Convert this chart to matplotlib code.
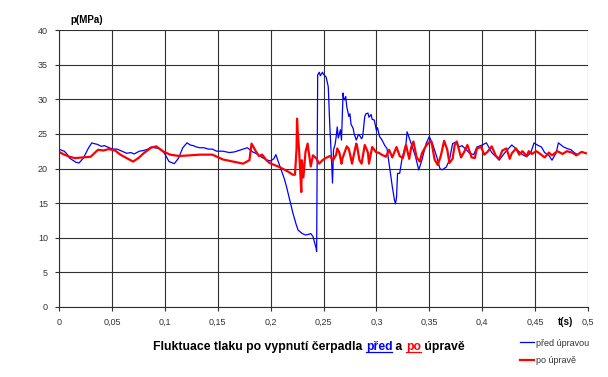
import matplotlib.pyplot as plt
from matplotlib.lines import Line2D
from matplotlib.ticker import FuncFormatter

plt.rcParams['font.family'] = ['Liberation Sans', 'DejaVu Sans']

# tlak pred upravou (modra)
t_pred = [0.000, 0.003, 0.005, 0.008, 0.010, 0.013, 0.016, 0.019, 0.023, 0.026,
          0.028, 0.031, 0.033, 0.036, 0.040, 0.043, 0.046, 0.049, 0.052, 0.055,
          0.058, 0.061, 0.064, 0.068, 0.071, 0.076, 0.080, 0.084, 0.087, 0.090,
          0.094, 0.097, 0.100, 0.104, 0.109, 0.113, 0.117, 0.121, 0.124, 0.127,
          0.130, 0.133, 0.137, 0.141, 0.145, 0.149, 0.155, 0.161, 0.166, 0.170,
          0.174, 0.178, 0.183, 0.186, 0.189, 0.193, 0.197, 0.200, 0.203, 0.205,
          0.207, 0.210, 0.213, 0.215, 0.218, 0.221, 0.224, 0.226, 0.230, 0.233,
          0.236, 0.238, 0.240, 0.2430, 0.2435, 0.2445, 0.246, 0.247, 0.249, 0.250,
          0.2525, 0.2545, 0.256, 0.2575, 0.2585, 0.2595, 0.261, 0.262, 0.263, 0.264,
          0.265, 0.266, 0.267, 0.2685, 0.269, 0.270, 0.271, 0.272, 0.273, 0.274,
          0.275, 0.276, 0.278, 0.279, 0.281, 0.283, 0.284, 0.286, 0.287, 0.289,
          0.290, 0.292, 0.293, 0.295, 0.296, 0.298, 0.300, 0.301, 0.303, 0.305,
          0.306, 0.308, 0.310, 0.312, 0.315, 0.317, 0.318, 0.319, 0.320, 0.322,
          0.324, 0.326, 0.328, 0.329, 0.332, 0.334, 0.337, 0.340, 0.343, 0.345,
          0.347, 0.350, 0.353, 0.357, 0.360, 0.362, 0.366, 0.369, 0.372, 0.375,
          0.378, 0.381, 0.385, 0.388, 0.392, 0.395, 0.400, 0.404, 0.409, 0.413,
          0.416, 0.421, 0.425, 0.428, 0.433, 0.438, 0.442, 0.446, 0.449, 0.452,
          0.456, 0.459, 0.463, 0.466, 0.470, 0.472, 0.477, 0.480, 0.484, 0.487,
          0.490]
p_pred = [22.8, 22.6, 22.5, 22.0, 21.5, 21.2, 20.9, 20.8, 21.5, 22.4,
          23.0, 23.7, 23.6, 23.5, 23.2, 23.3, 23.1, 22.9, 22.8, 22.8,
          22.6, 22.4, 22.2, 22.3, 22.1, 22.5, 22.6, 22.8, 23.1, 23.0,
          22.9, 22.7, 22.1, 21.0, 20.7, 21.5, 23.0, 23.7, 23.4, 23.3,
          23.1, 23.0, 23.0, 22.8, 22.8, 22.5, 22.5, 22.3, 22.4, 22.6,
          22.8, 23.0, 22.4, 22.2, 21.9, 21.5, 21.2, 21.1, 21.4, 22.0,
          21.1, 19.8, 18.5, 17.4, 15.5, 13.6, 12.0, 11.1, 10.6, 10.4,
          10.5, 10.6, 10.2, 8.5, 8.0, 33.5, 33.9, 33.4, 33.9, 33.6,
          33.2, 31.8, 26.0, 21.5, 17.9, 22.7, 23.5, 24.6, 26.0, 24.4,
          25.0, 25.6, 24.1, 30.9, 30.2, 29.9, 30.4, 28.9, 28.2, 27.5,
          27.9, 26.4, 25.8, 25.0, 24.1, 24.9, 24.8, 24.3, 24.6, 27.5,
          27.9, 28.0, 27.4, 27.8, 27.1, 27.0, 25.5, 25.9, 24.6, 24.2,
          23.9, 23.3, 22.9, 20.7, 17.4, 15.5, 14.9, 15.8, 19.3, 19.3,
          21.2, 22.5, 23.6, 25.3, 24.0, 23.1, 21.7, 19.8, 21.2, 22.4,
          23.6, 24.6, 23.6, 21.7, 20.0, 19.8, 20.2, 21.2, 23.6, 23.8,
          23.1, 23.3, 22.7, 22.2, 22.0, 23.1, 23.4, 23.7, 22.3, 21.7,
          21.2, 22.2, 22.9, 23.4, 22.7, 22.0, 21.7, 22.3, 23.7, 23.4,
          23.1, 22.3, 21.9, 21.2, 22.3, 23.7, 23.1, 22.9, 22.7, 22.3,
          22.0]

# tlak po uprave (cervena)
t_po = [0.000, 0.005, 0.010, 0.015, 0.022, 0.030, 0.034, 0.037, 0.042, 0.047,
        0.053, 0.058, 0.064, 0.070, 0.075, 0.080, 0.087, 0.092, 0.098, 0.105,
        0.114, 0.133, 0.145, 0.155, 0.168, 0.174, 0.180, 0.182, 0.186, 0.189,
        0.192, 0.196, 0.199, 0.202, 0.207, 0.211, 0.216, 0.221, 0.223, 0.2245,
        0.2250, 0.2255, 0.227, 0.229, 0.2295, 0.231, 0.233, 0.235, 0.236, 0.238,
        0.240, 0.243, 0.246, 0.249, 0.252, 0.256, 0.259, 0.262, 0.263, 0.265,
        0.267, 0.268, 0.272, 0.274, 0.277, 0.278, 0.281, 0.282, 0.284, 0.286,
        0.289, 0.292, 0.293, 0.296, 0.300, 0.302, 0.305, 0.309, 0.312, 0.315,
        0.319, 0.322, 0.325, 0.328, 0.331, 0.333, 0.335, 0.338, 0.341, 0.343,
        0.347, 0.350, 0.352, 0.355, 0.358, 0.361, 0.364, 0.367, 0.369, 0.372,
        0.374, 0.376, 0.380, 0.383, 0.386, 0.390, 0.393, 0.395, 0.399, 0.402,
        0.405, 0.409, 0.413, 0.416, 0.419, 0.423, 0.426, 0.428, 0.432, 0.435,
        0.438, 0.442, 0.444, 0.447, 0.451, 0.454, 0.459, 0.463, 0.466, 0.471,
        0.476, 0.480, 0.485, 0.489, 0.492, 0.494, 0.498]
p_po = [22.4, 22.0, 21.7, 21.5, 21.6, 21.7, 22.3, 22.7, 22.6, 22.8,
        22.6, 22.0, 21.5, 21.0, 21.5, 22.2, 23.0, 23.2, 22.5, 22.0,
        21.8, 22.0, 22.0, 21.3, 20.9, 20.7, 21.2, 23.6, 22.5, 21.8,
        22.0, 21.2, 20.8, 20.6, 20.3, 20.0, 19.6, 19.1, 19.1, 22.7,
        27.2, 25.6, 22.4, 16.6, 21.2, 18.7, 22.4, 23.6, 22.4, 20.3,
        21.9, 21.5, 20.7, 21.2, 21.5, 21.8, 21.2, 22.0, 22.9, 22.3,
        20.7, 21.5, 23.2, 22.8, 20.7, 21.5, 23.6, 23.0, 21.2, 20.7,
        23.4, 22.3, 20.7, 23.1, 22.3, 22.3, 22.0, 21.7, 22.7, 21.6,
        23.1, 21.8, 21.5, 23.4, 21.4, 23.1, 23.9, 21.6, 21.0, 22.2,
        23.3, 23.8, 23.9, 21.3, 20.5, 21.9, 24.0, 22.7, 20.8, 21.4,
        23.4, 23.9, 21.6, 22.4, 23.4, 21.6, 21.5, 22.9, 23.1, 22.0,
        22.4, 23.2, 21.8, 21.4, 22.6, 22.9, 21.4, 22.2, 22.9, 22.0,
        22.5, 21.8, 22.5, 22.1, 22.5, 22.2, 21.6, 22.3, 21.9, 22.5,
        22.1, 22.5, 22.3, 21.9, 22.2, 22.4, 22.2]

x_ticks = [0, 0.05, 0.1, 0.15, 0.2, 0.25, 0.3, 0.35, 0.4, 0.45, 0.5]
y_ticks = [0, 5, 10, 15, 20, 25, 30, 35, 40]

fig = plt.figure(figsize=(6.08, 3.77), dpi=100)
ax = fig.add_axes([59 / 608, 1 - 307 / 377, 529 / 608, 277 / 377])

ax.plot(t_pred, p_pred, color='#0000ff', lw=0.9, label='před úpravou')
ax.plot(t_po, p_po, color='#ff0000', lw=1.6, label='po úpravě')

ax.set_xlim(0, 0.5)
ax.set_ylim(0, 40)
ax.set_xticks(x_ticks)
ax.set_yticks(y_ticks)
ax.xaxis.set_major_formatter(FuncFormatter(lambda v, pos: ('%g' % v).replace('.', ',')))
ax.grid(True, color='#303030', lw=0.8)
ax.set_axisbelow(True)
for s in ['top', 'right']:
    ax.spines[s].set_visible(False)
for s in ['left', 'bottom']:
    ax.spines[s].set_color('#303030')
    ax.spines[s].set_linewidth(0.8)
ax.tick_params(labelsize=6.5, labelcolor='#333333', length=3, width=0.8, color='#303030', pad=5)

fig.text(70 / 608, 1 - 20 / 377, 'p(MPa)', fontsize=7, fontweight='bold', va='center')
fig.text(558 / 608, 1 - 322 / 377, 't(s)', fontsize=7, fontweight='bold', va='center')

# titulek z kousku
parts = [('Fluktuace tlaku po vypnutí čerpadla ', 'black', False),
         ('před', '#0000ff', True),
         (' a ', 'black', False),
         ('po', '#ff0000', True),
         (' úpravě', 'black', False)]
texts = []
for s, c, u in parts:
    tx = fig.text(153 / 608, 1 - 347 / 377, s, fontsize=8.8, fontweight='bold', color=c,
                  va='center', ha='left')
    texts.append((tx, c, u))

fig.canvas.draw()
r = fig.canvas.get_renderer()
inv = fig.transFigure.inverted()
bb = texts[0][0].get_window_extent(r)
x_cur = bb.x1
for tx, c, u in texts[1:]:
    fx, fy = inv.transform((x_cur, bb.y0))
    tx.set_va('bottom')
    tx.set_position((fx, fy))
    b2 = tx.get_window_extent(r)
    x_cur = b2.x1
    if u:
        yl = b2.y0 + 0.12 * b2.height
        (ax0, ay), (ax1, _) = inv.transform([(b2.x0, yl), (b2.x1, yl)])
        fig.add_artist(Line2D([ax0, ax1], [ay, ay], color=c, lw=0.9, transform=fig.transFigure))

fig.legend(loc='upper left', bbox_to_anchor=(516 / 608, 1 - 335 / 377), frameon=False,
           fontsize=6.5, handlelength=1.6, handletextpad=0.2, labelspacing=0.9,
           labelcolor='#333333', borderaxespad=0)

fig.savefig('out.png', dpi=100)
